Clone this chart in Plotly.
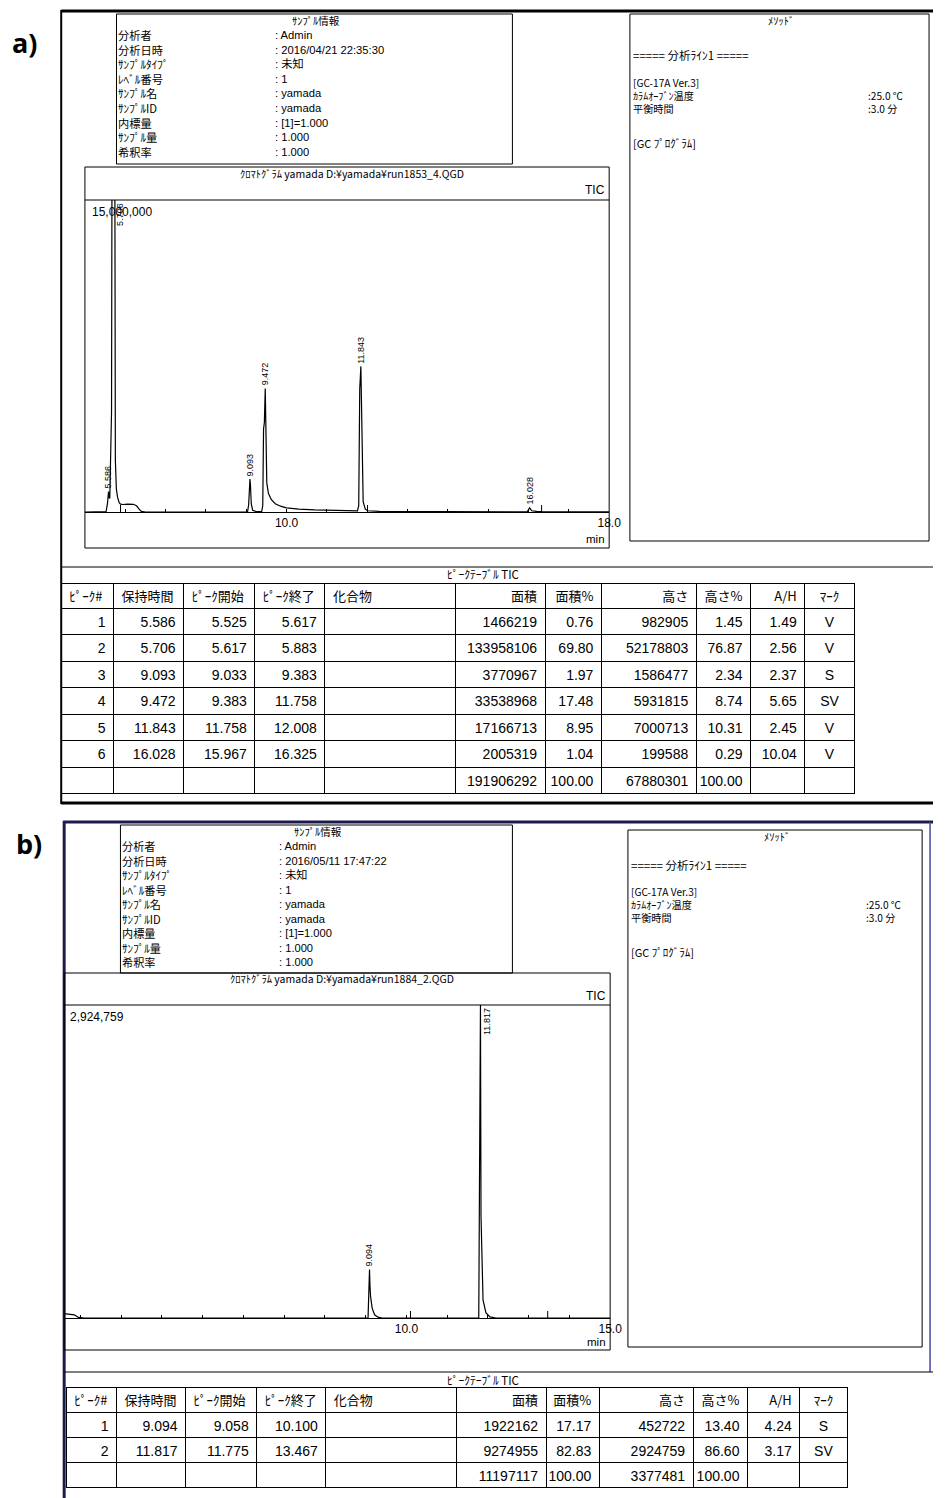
import plotly.graph_objects as go

W, H = 945, 1498

# ---------------- run a) : peak table ----------------
peak_no_a = [1, 2, 3, 4, 5, 6]
rt_a = [5.586, 5.706, 9.093, 9.472, 11.843, 16.028]
start_a = [5.525, 5.617, 9.033, 9.383, 11.758, 15.967]
end_a = [5.617, 5.883, 9.383, 11.758, 12.008, 16.325]
area_a = [1466219, 133958106, 3770967, 33538968, 17166713, 2005319]
area_pct_a = [0.76, 69.80, 1.97, 17.48, 8.95, 1.04]
height_a = [982905, 52178803, 1586477, 5931815, 7000713, 199588]
height_pct_a = [1.45, 76.87, 2.34, 8.74, 10.31, 0.29]
ah_a = [1.49, 2.56, 2.37, 5.65, 2.45, 10.04]
mark_a = ["V", "V", "S", "SV", "V", "V"]
total_area_a = 191906292
total_height_a = 67880301

# run a) : signal between the apexes (min, counts)
signal_t_a = [5.00, 5.50, 5.525, 5.56, 5.60, 5.617, 5.66, 5.68, 5.73, 5.755, 5.78, 5.81,
              5.85, 5.883, 5.95, 6.05, 6.20, 6.28, 6.34, 6.40, 6.50, 8.90,
              9.033, 9.06, 9.08, 9.105, 9.125, 9.16, 9.25, 9.383,
              9.41, 9.43, 9.45, 9.49, 9.51, 9.55, 9.62, 9.72, 9.85, 10.0, 10.3, 10.7,
              11.2, 11.758, 11.79, 11.815, 11.86, 11.875, 11.90, 11.95, 12.008, 12.3,
              13.0, 15.967, 16.08, 16.2, 16.325, 18.0]
signal_y_a = [0, 0, 20000, 400000, 700000, 650000, 4800000, 30000000, 30000000, 2500000,
              1100000, 700000, 450000, 380000, 360000, 380000, 370000, 300000, 150000,
              30000, 0, 0,
              0, 350000, 1300000, 1300000, 400000, 80000, 20000, 20000,
              300000, 4000000, 4300000, 3000000, 1400000, 900000, 600000, 400000, 280000,
              200000, 140000, 100000,
              70000, 50000, 300000, 5900000, 5000000, 2200000, 500000, 150000, 60000,
              30000, 20000, 10000, 60000, 30000, 20000, 10000]

ymax_a = 15000000
xrange_a = [5.0, 18.0]
minute_ticks_a = list(range(6, 19))
labelled_ticks_a = [10, 18]

# ---------------- run b) : peak table ----------------
peak_no_b = [1, 2]
rt_b = [9.094, 11.817]
start_b = [9.058, 11.775]
end_b = [10.100, 13.467]
area_b = [1922162, 9274955]
area_pct_b = [17.17, 82.83]
height_b = [452722, 2924759]
height_pct_b = [13.40, 86.60]
ah_b = [4.24, 3.17]
mark_b = ["S", "SV"]
total_area_b = 11197117
total_height_b = 3377481

signal_t_b = [1.60, 1.70, 1.85, 1.95, 2.10, 9.058, 9.07, 9.085, 9.105, 9.12, 9.16, 9.22,
              9.30, 9.40, 11.775, 11.80, 11.83, 11.85, 11.88, 11.95, 12.05, 12.2, 15.0]
signal_y_b = [40000, 35000, 30000, 5000, 0, 0, 200000, 250000, 300000, 200000, 90000,
              30000, 8000, 0, 0, 2450000, 960000, 480000, 170000, 50000, 10000, 0, 0]

ymax_b = 2924759
xrange_b = [1.6, 15.0]
minute_ticks_b = list(range(2, 16))
labelled_ticks_b = [10, 15]

# ---------------- header texts ----------------
info_labels = ["分析者", "分析日時", "ｻﾝﾌﾟﾙﾀｲﾌﾟ", "ﾚﾍﾞﾙ番号", "ｻﾝﾌﾟﾙ名",
               "ｻﾝﾌﾟﾙID", "内標量", "ｻﾝﾌﾟﾙ量", "希釈率"]
info_values_a = [": Admin", ": 2016/04/21 22:35:30", ": 未知", ": 1", ": yamada",
                 ": yamada", ": [1]=1.000", ": 1.000", ": 1.000"]
info_values_b = [": Admin", ": 2016/05/11 17:47:22", ": 未知", ": 1", ": yamada",
                 ": yamada", ": [1]=1.000", ": 1.000", ": 1.000"]
method_head = "===== 分析ﾗｲﾝ1 ====="
method_labels = ["[GC-17A Ver.3]", "ｶﾗﾑｵｰﾌﾞﾝ温度", "平衡時間"]
method_values = [":25.0 ℃", ":3.0 分"]
method_program = "[GC ﾌﾟﾛｸﾞﾗﾑ]"
file_a = "ｸﾛﾏﾄｸﾞﾗﾑ yamada D:¥yamada¥run1853_4.QGD"
file_b = "ｸﾛﾏﾄｸﾞﾗﾑ yamada D:¥yamada¥run1884_2.QGD"
table_cols = ["ﾋﾟｰｸ#", "保持時間", "ﾋﾟｰｸ開始", "ﾋﾟｰｸ終了", "化合物", "面積", "面積%",
              "高さ", "高さ%", "A/H", "ﾏｰｸ"]

FONT = "Liberation Sans, Noto Sans CJK JP, sans-serif"
JFONT = "Noto Sans CJK JP, Liberation Sans, sans-serif"


def px(x):
    return x / W


def py(y):
    return 1 - y / H


shapes = []
annotations = []


def line(x0, y0, x1, y1, w=1.0, color="black"):
    shapes.append(dict(type="line", xref="paper", yref="paper", x0=px(x0), y0=py(y0),
                       x1=px(x1), y1=py(y1), line=dict(color=color, width=w)))


def rect(x0, y0, x1, y1, w=1.0, color="black"):
    shapes.append(dict(type="rect", xref="paper", yref="paper", x0=px(x0), y0=py(y0),
                       x1=px(x1), y1=py(y1), line=dict(color=color, width=w)))


def text(x, y, s, size=12, xanchor="left", family=FONT, yanchor="middle"):
    annotations.append(dict(xref="paper", yref="paper", x=px(x), y=py(y), text=s,
                            showarrow=False, xanchor=xanchor, yanchor=yanchor,
                            borderpad=0, align="left",
                            font=dict(family=family, size=size, color="black")))


def header_block(info_box, info_values, row_gap, method_box, method_ys, value_x):
    # sample information box: one text block per column
    x0, y0, x1, y1 = info_box
    rect(x0, y0, x1, y1)
    text((x0 + x1) / 2 + 2, y0 + 6, "ｻﾝﾌﾟﾙ情報", size=10.5, xanchor="center", family=JFONT)
    size = row_gap / 1.3
    first = y0 + 21
    mid = first + (len(info_labels) - 1) * row_gap / 2
    text(x0 + 1, mid, "<br>".join(info_labels), size=size, family=JFONT)
    text(x0 + 160, mid, "<br>".join(info_values), size=size, family=FONT)
    # method box
    mx0, my0, mx1, my1 = method_box
    rect(mx0, my0, mx1, my1)
    text((mx0 + mx1) / 2 + 2, my0 + 6, "ﾒｿｯﾄﾞ", size=10.5, xanchor="center", family=JFONT)
    head_y, list_y, prog_y = method_ys
    gap = 13.2
    text(mx0 + 2, head_y, method_head, size=11.5, family=JFONT)
    text(mx0 + 2, list_y + gap, "<br>".join(method_labels), size=gap / 1.3, family=JFONT)
    text(value_x, list_y + 1.5 * gap, "<br>".join(method_values), size=gap / 1.3,
         family=JFONT)
    text(mx0 + 2, prog_y, method_program, size=11, family=JFONT)


def chrom_frame(box, sep_y, title, tic_y, min_y):
    x0, y0, x1, y1 = box
    rect(x0, y0, x1, y1)
    line(x0, sep_y, x1, sep_y)
    text((x0 + x1) / 2 + 5, y0 + 6, title, size=10.5, xanchor="center", family=JFONT)
    text(x1 - 3, tic_y, "TIC", size=12, xanchor="right")
    text(x1 - 3, min_y, "min", size=11.5, xanchor="right")


# ---------------- panel a) frame ----------------
line(62, 11, 945, 11, w=3)
line(62, 10, 62, 804, w=2)
line(62, 803, 945, 803, w=3)
annotations.append(dict(xref="paper", yref="paper", x=px(10), y=py(42), text="<b>a)</b>",
                        showarrow=False, xanchor="left", yanchor="middle",
                        font=dict(family="Open Sans", size=27, color="black")))
header_block((118, 14, 519, 164), info_values_a, 14.6, (638, 14, 941, 541),
             (55, 82, 143), 878)
chrom_frame((86, 167, 617, 548), 200, file_a, 190, 539)
line(62, 567, 945, 567)
text(452, 574, "ﾋﾟｰｸﾃｰﾌﾞﾙ TIC", size=11.5, family=JFONT)

# ---------------- panel b) frame ----------------
NAVY = "#1b1b4f"
line(64, 822, 945, 822, w=3, color=NAVY)
line(65, 821, 65, 1498, w=3, color=NAVY)
line(942, 822, 942, 1372, w=1.5, color="#4848a0")
annotations.append(dict(xref="paper", yref="paper", x=px(14), y=py(843), text="<b>b)</b>",
                        showarrow=False, xanchor="left", yanchor="middle",
                        font=dict(family="Open Sans", size=27, color="black")))
header_block((122, 825, 519, 973), info_values_b, 14.5, (636, 830, 934, 1347),
             (865, 891, 952), 876)
chrom_frame((65, 973, 618, 1350), 1005, file_b, 996, 1342)
line(65, 1372, 945, 1372)
text(452, 1380, "ﾋﾟｰｸﾃｰﾌﾞﾙ TIC", size=11.5, family=JFONT)

fig = go.Figure()


def add_chromatogram(xa, ya, sig_t, sig_y, rts, heights, ymax, starts, ends):
    pts = sorted(list(zip(sig_t, sig_y)) + list(zip(rts, heights)))
    fig.add_trace(go.Scatter(x=[p[0] for p in pts], y=[p[1] for p in pts], mode="lines",
                             line=dict(color="black", width=1.2), xaxis=xa, yaxis=ya,
                             hoverinfo="skip"))
    # peak start (below baseline) and end (above baseline) markers
    start_set = sorted(set(starts))
    end_only = sorted(set(ends) - set(starts))
    for t in start_set:
        shapes.append(dict(type="line", xref=xa, yref=ya, x0=t, x1=t, ysizemode="pixel",
                           yanchor=0, y0=0, y1=-8, line=dict(color="black", width=1)))
    for t in end_only:
        shapes.append(dict(type="line", xref=xa, yref=ya, x0=t, x1=t, ysizemode="pixel",
                           yanchor=0, y0=0, y1=7, line=dict(color="black", width=1)))
    # retention time labels above each apex
    for t, h in zip(rts, heights):
        top = h >= ymax
        annotations.append(dict(xref=xa, yref=ya, x=t, y=min(h, ymax), text=f"{t:.3f}",
                                textangle=-90, showarrow=False, borderpad=0,
                                xanchor="center", yanchor="top" if top else "bottom",
                                xshift=6 if top else 0, yshift=-2 if top else 2,
                                font=dict(family=FONT, size=9, color="black")))


add_chromatogram("x", "y", signal_t_a, signal_y_a, rt_a, height_a, ymax_a, start_a, end_a)
add_chromatogram("x2", "y2", signal_t_b, signal_y_b, rt_b, height_b, ymax_b, start_b, end_b)

# full-scale labels
text(92, 212, f"{ymax_a:,}", size=12)
text(70, 1017, f"{ymax_b:,}", size=12)


def fmt_rows(nos, rts, sts, ens, areas, apct, hts, hpct, ahs, marks, tot_a, tot_h):
    cols = [[str(n) for n in nos] + [""],
            [f"{v:.3f}" for v in rts] + [""],
            [f"{v:.3f}" for v in sts] + [""],
            [f"{v:.3f}" for v in ens] + [""],
            ["" for _ in nos] + [""],
            [str(v) for v in areas] + [str(tot_a)],
            [f"{v:.2f}" for v in apct] + ["100.00"],
            [str(v) for v in hts] + [str(tot_h)],
            [f"{v:.2f}" for v in hpct] + ["100.00"],
            [f"{v:.2f}" for v in ahs] + [""],
            list(marks) + [""]]
    return cols


header_align = ["left"] * 5 + ["right"] * 5 + ["center"]
cell_align = ["right"] * 4 + ["left"] + ["right"] * 5 + ["center"]

fig.add_trace(go.Table(
    domain=dict(x=[px(62), px(866)], y=[py(800), py(583)]),
    columnwidth=[53, 71, 72, 71, 132, 91, 57, 96, 55, 55, 50],
    header=dict(values=table_cols, height=25, align=header_align,
                line=dict(color="black", width=1), fill=dict(color="white"),
                font=dict(family=JFONT, size=13, color="black")),
    cells=dict(values=fmt_rows(peak_no_a, rt_a, start_a, end_a, area_a, area_pct_a,
                               height_a, height_pct_a, ah_a, mark_a,
                               total_area_a, total_height_a),
               height=26.5, align=cell_align, line=dict(color="black", width=1),
               fill=dict(color="white"), font=dict(family=FONT, size=14, color="black"))))

fig.add_trace(go.Table(
    domain=dict(x=[px(67), px(859)], y=[py(1494), py(1387)]),
    columnwidth=[51, 70, 72, 70, 132, 91, 54, 95, 55, 53, 48],
    header=dict(values=table_cols, height=25, align=header_align,
                line=dict(color="black", width=1), fill=dict(color="white"),
                font=dict(family=JFONT, size=13, color="black")),
    cells=dict(values=fmt_rows(peak_no_b, rt_b, start_b, end_b, area_b, area_pct_b,
                               height_b, height_pct_b, ah_b, mark_b,
                               total_area_b, total_height_b),
               height=25, align=cell_align, line=dict(color="black", width=1),
               fill=dict(color="white"), font=dict(family=FONT, size=14, color="black"))))


def xaxis_cfg(dom, rng, ticks, labelled, anchor):
    return dict(domain=dom, range=rng, anchor=anchor, showline=True, linecolor="black",
                linewidth=1, showgrid=False, zeroline=False, ticks="inside", ticklen=3,
                tickcolor="black", tickvals=ticks,
                ticktext=[f"{v:.1f}" if v in labelled else "" for v in ticks],
                tickfont=dict(family=FONT, size=12, color="black"), fixedrange=True)


def yaxis_cfg(dom, ymax, anchor):
    return dict(domain=dom, range=[0, ymax], anchor=anchor, visible=False,
                showgrid=False, zeroline=False, fixedrange=True)


fig.update_layout(
    width=W, height=H, margin=dict(l=0, r=0, t=0, b=0),
    paper_bgcolor="white", plot_bgcolor="white", showlegend=False,
    xaxis=xaxis_cfg([px(86), px(617)], xrange_a, minute_ticks_a, labelled_ticks_a, "y"),
    yaxis=yaxis_cfg([py(512), py(200)], ymax_a, "x"),
    xaxis2=xaxis_cfg([px(65), px(618)], xrange_b, minute_ticks_b, labelled_ticks_b, "y2"),
    yaxis2=yaxis_cfg([py(1318), py(1005)], ymax_b, "x2"),
    shapes=shapes, annotations=annotations,
)

fig.write_html("out.html")
